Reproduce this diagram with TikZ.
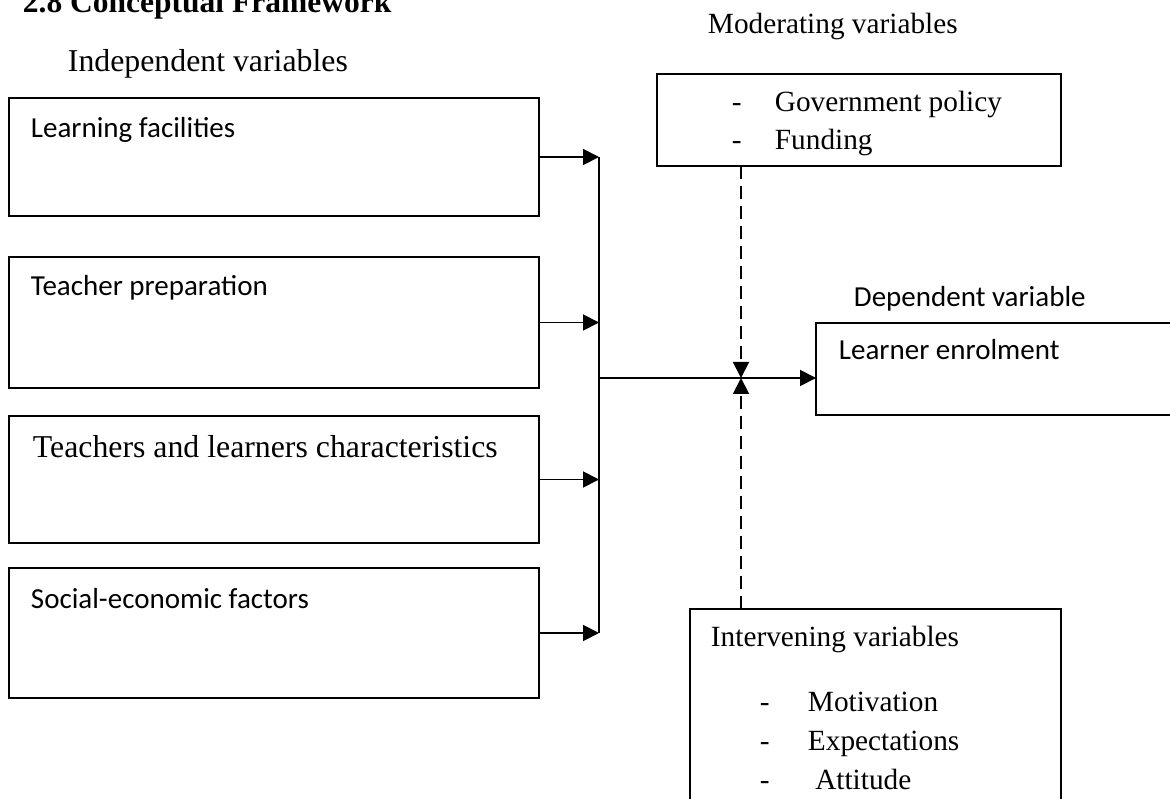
\documentclass[tikz,border=0pt]{standalone}
\usepackage{fontspec}
\setmainfont{Liberation Serif}
\newfontfamily\calibrifont{Carlito}
\usetikzlibrary{arrows.meta}

\begin{document}
\begin{tikzpicture}[x=1pt,y=-1pt,
  line width=1.9pt,
  box/.style={draw, anchor=north west, inner sep=0pt, outer sep=0pt},
  txt/.style={anchor=base west, inner sep=0pt},
  big/.style={txt, font=\fontsize{31.8}{38}\selectfont},
  small/.style={txt, font=\fontsize{29.3}{35}\selectfont},
  cal/.style={txt, font=\calibrifont\fontsize{29}{35}\selectfont},
  tip/.style={-{Triangle[length=16pt,width=16pt]}},
  link/.style={dash pattern=on 13pt off 7pt}]
\useasboundingbox (0,0) rectangle (1170,799);
\clip (0,0) rectangle (1170,799);

% headings
\node[txt, font=\bfseries\fontsize{31.5}{38}\selectfont] (title) at (22,13) {2.8 Conceptual Framework};
\node[big] (indep) at (67,72) {Independent variables};
\node[small] (modlab) at (707,34) {Moderating variables};
\node[cal] (deplab) at (853,307) {Dependent variable};

% independent variables
\node[box, minimum width=530pt, minimum height=118pt] (lf) at (9,98) {};
\node[box, minimum width=530pt, minimum height=131pt] (tp) at (9,257) {};
\node[box, minimum width=530pt, minimum height=127pt] (tl) at (9,416) {};
\node[box, minimum width=530pt, minimum height=130pt] (se) at (9,568) {};
\node[cal] (lft) at (30,138) {Learning facilities};
\node[cal] (tpt) at (30,296) {Teacher preparation};
\node[big] (tlt) at (32,457) {Teachers and learners characteristics};
\node[cal] (set) at (30,608) {Social-economic factors};

% moderating variables
\node[box, minimum width=404pt, minimum height=92pt] (mod) at (657,74) {};
\node[small] (m1) at (731,112) {\makebox[43pt][l]{-}Government policy};
\node[small] (m2) at (731,150) {\makebox[43pt][l]{-}Funding};

% dependent variable
\node[box, minimum width=380pt, minimum height=92pt] (dep) at (816,323) {};
\node[cal] (dept) at (838,360) {Learner enrolment};

% intervening variables
\node[box, minimum width=371pt, minimum height=230pt] (int) at (690,609) {};
\node[small] (it) at (710,646) {Intervening variables};
\node[small] (i1) at (759,711) {\makebox[48pt][l]{-}Motivation};
\node[small] (i2) at (759,750) {\makebox[48pt][l]{-}Expectations};
\node[small] (i3) at (759,789) {\makebox[48pt][l]{-}\ Attitude};

% junctions
\coordinate (bus) at (599,378);
\coordinate (cross) at (741,378);

% connectors
\foreach \b in {lf,tp,tl,se}
  \draw[tip] (\b.east) -- (\b.east -| bus);
\draw (lf.east -| bus) -- (se.east -| bus);
\draw[tip] (bus) -- (bus -| dep.west);
\draw[tip, link] (cross |- mod.south) -- (cross);
\draw[tip, link] (cross |- int.north) -- (cross);
\end{tikzpicture}
\end{document}
